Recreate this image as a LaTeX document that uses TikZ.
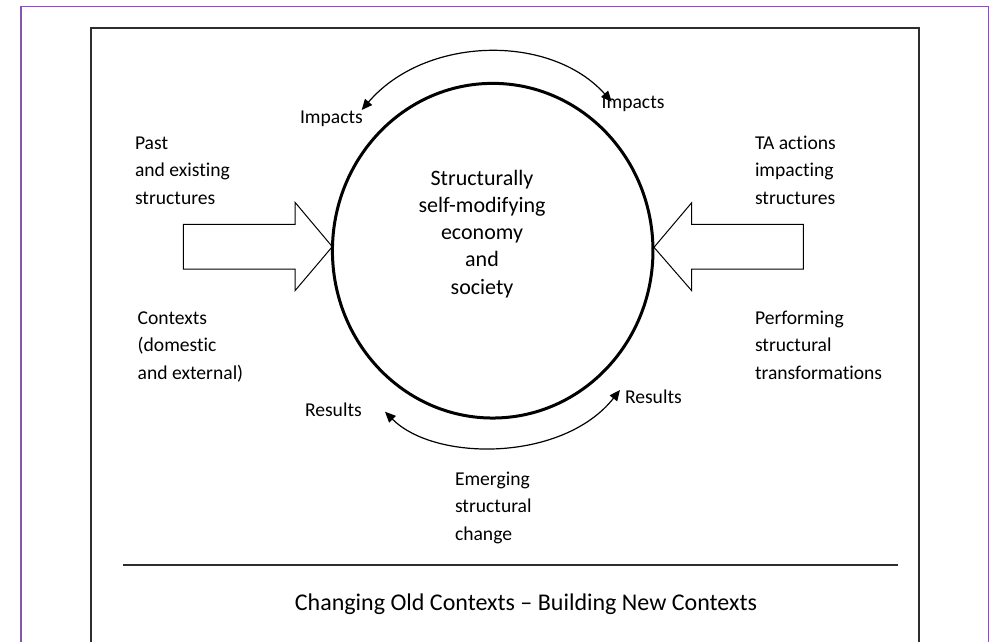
\documentclass[tikz,border=0pt]{standalone}
\usepackage{fontspec}
\setmainfont{Carlito}[Ligatures=NoCommon]
\usetikzlibrary{shapes.geometric,arrows.meta}
\definecolor{framepurple}{RGB}{132,84,176}
\definecolor{framegray}{RGB}{45,45,45}
\tikzset{
  lbl/.style={inner sep=0pt, outer sep=0pt, align=left, anchor=base west,
    font=\fontsize{14.7pt}{20.5pt}\selectfont},
  clbl/.style={inner sep=0pt, outer sep=0pt, align=center, anchor=base,
    font=\fontsize{16.5pt}{20.3pt}\selectfont},
  caplbl/.style={inner sep=0pt, outer sep=0pt, anchor=base,
    font=\fontsize{18pt}{22pt}\selectfont},
  blockarrow/.style={draw=black, fill=white, line width=0.75pt, line join=miter},
  curvearrow/.style={draw=black, line width=0.9pt,
    {Triangle[length=8pt,width=7pt]}-{Triangle[length=8pt,width=7pt]}},
}
\begin{document}
\begin{tikzpicture}[x=0.75pt,y=-0.75pt]
\useasboundingbox (0,0) rectangle (996,642);
\clip (0,0) rectangle (996,642);
% outer purple frame and inner frame
\draw[framepurple, line width=0.9pt] (21,6.8) rectangle (988.7,660);
\draw[framegray, line width=1.5pt] (90.7,28) rectangle (919.3,660);
% block arrows
\draw[blockarrow] (183.3,224.3) -- (295,224.3) -- (295,202.3) -- (332.3,246.7)
  -- (295,290.7) -- (295,269) -- (183.3,269) -- cycle;
\draw[blockarrow] (803.3,224.3) -- (691.7,224.3) -- (691.7,202.7) -- (654,247.3)
  -- (691.7,290.7) -- (691.7,269) -- (803.3,269) -- cycle;
% central circle
\node[draw=black, ellipse, line width=2.25pt, inner sep=0pt,
  minimum width=240.4pt, minimum height=251pt] (core) at (492.7,250.7) {};
% curved arrows
\coordinate (ta) at (361.7,110);
\coordinate (tb) at (611.7,101.7);
\draw[curvearrow] (ta) .. controls (425,36) and (550,33) .. (tb);
\coordinate (ba) at (385,411.7);
\coordinate (bb) at (620,390);
\draw[curvearrow] (ba) .. controls (435,462) and (563,462) .. (bb);
% texts (base anchor = baseline of the last line)
\node[clbl] (centre) at (482,294) {Structurally\\self-modifying\\economy\\and\\society};
\node[lbl] (past) at (135,204) {Past\\and existing\\structures};
\node[lbl] (ctx) at (137.7,379.3) {Contexts\\(domestic\\and external)};
\node[lbl] (ta) at (755,204) {TA actions\\impacting\\structures};
\node[lbl] (perf) at (755,379.3) {Performing\\structural\\transformations};
\node[lbl] (impl) at (300,123.3) {Impacts};
\node[lbl] (impr) at (601.7,108.3) {Impacts};
\node[lbl] (resl) at (305,416.7) {Results};
\node[lbl] (resr) at (625,403.3) {Results};
\node[lbl] (emerg) at (455,540) {Emerging\\structural\\change};
% rule and caption
\coordinate (ruleL) at (123.3,565);
\coordinate (ruleR) at (897.7,565);
\draw[framegray, line width=1.3pt] (ruleL) -- (ruleR);
\node[caplbl] (caption) at (526,610) {Changing Old Contexts – Building New Contexts};
\end{tikzpicture}
\end{document}
